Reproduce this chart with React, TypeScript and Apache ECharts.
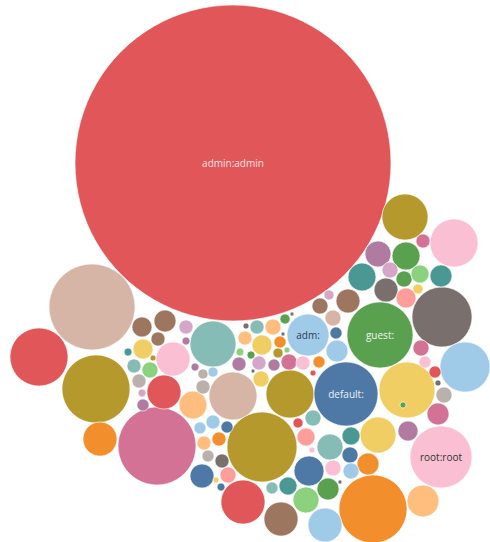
import React, { useEffect, useRef } from "react";
import * as echarts from "echarts";

// Bubble labels (empty = unlabeled)
const labels: string[] = [
  "admin:admin", "", "", "", "", "", "", "", "", "", "", "", "", "default:", "", "guest:", "", "", "", "",
  "root:root", "", "", "", "", "adm:",
];

// Bubble centre positions (layout units) and radii (value)
const xs: number[] = [
  233, 92, 39, 96, 100, 157, 164, 193, 233, 262, 243, 281, 290, 346, 407, 380, 442, 405, 454, 465,
  441, 373, 423, 378, 368, 308, 213, 173, 165, 142, 158, 186, 186, 143, 128, 134, 150, 153, 195, 203,
  213, 139, 203, 142, 143, 325, 306, 328, 288, 309, 330, 351, 350, 351, 333, 306, 313, 298, 408, 438,
  444, 435, 438, 425, 421, 423, 378, 406, 362, 390, 404, 420, 441, 386, 418, 406, 348, 320, 329, 333,
  336, 337, 285, 292, 257, 246, 273, 245, 262, 280, 240, 251, 278, 287, 239, 259, 274, 289, 303, 319,
  313, 261, 200, 213, 227, 204, 219, 208, 222, 202, 228, 216, 221, 272, 403, 312, 340, 283, 253,
];
const ys: number[] = [
  163, 307, 357, 389, 439, 446, 392, 405, 396, 447, 502, 519, 394, 394, 390, 335, 317, 217, 243, 367,
  457, 509, 501, 435, 464, 335, 344, 359, 321, 327, 339, 327, 341, 349, 352, 366, 370, 358, 367, 374,
  372, 381, 387, 393, 405, 525, 500, 489, 486, 471, 447, 436, 455, 471, 468, 437, 418, 423, 431, 414,
  395, 372, 383, 362, 348, 241, 254, 256, 277, 270, 279, 274, 276, 290, 289, 298, 301, 306, 295, 318,
  333, 351, 319, 314, 327, 326, 327, 338, 345, 342, 352, 355, 353, 350, 364, 363, 365, 362, 363, 362,
  373, 379, 428, 422, 427, 443, 439, 456, 461, 476, 475, 480, 487, 488, 405, 450, 482, 334, 371,
];
const radii: number[] = [
  158, 43, 29, 34, 17, 39, 17, 14, 24, 35, 22, 17, 24, 32, 28, 33, 30, 23, 24, 25,
  31, 34, 16, 18, 11, 21, 23, 17, 11, 10, 7, 7, 4, 10, 4, 7, 8, 3, 4, 5,
  5, 7, 7, 4, 6, 17, 13, 11, 9, 15, 13, 9, 8, 8, 8, 9, 8, 5, 10, 11,
  8, 6, 3, 6, 8, 7, 13, 14, 14, 8, 8, 9, 11, 12, 5, 10, 12, 8, 5, 8,
  6, 11, 5, 2, 7, 3, 8, 7, 10, 6, 4, 4, 5, 3, 7, 7, 6, 8, 7, 6,
  3, 8, 6, 7, 6, 7, 7, 6, 7, 12, 8, 3, 4, 6, 3, 3, 2, 2, 2,
];
// Category of each bubble (into palette)
const cats: string[] = [
  "red", "tan", "red", "olive", "orange", "pink", "red", "lorange", "tan", "olive", "red", "brown", "olive", "blue", "yellow", "green", "gbrown", "olive", "lpink", "lblue",
  "lpink", "orange", "lorange", "yellow", "orange", "lblue", "lteal", "lpink", "brown", "brown", "brown", "lpurple", "purple", "yellow", "teal", "lteal", "lgreen", "olive", "purple", "lgrey",
  "lblue", "lgrey", "lgrey", "lpurple", "purple", "lblue", "lgreen", "green", "teal", "blue", "lteal", "teal", "blue", "lblue", "lpink", "salmon", "lteal", "red", "purple", "pink",
  "lgrey", "red", "gbrown", "lpink", "pink", "pink", "purple", "green", "teal", "lpurple", "green", "lgreen", "teal", "gbrown", "yellow", "salmon", "brown", "brown", "lpurple", "tan",
  "blue", "lblue", "green", "gbrown", "lteal", "gbrown", "lorange", "lorange", "yellow", "orange", "lgreen", "green", "olive", "lgreen", "purple", "lpurple", "purple", "pink", "lpink", "orange",
  "red", "yellow", "lblue", "lblue", "blue", "lorange", "orange", "lgrey", "gbrown", "blue", "salmon", "yellow", "blue", "lteal", "green", "lpink", "gbrown", "gbrown", "gbrown",
];

const palette: Record<string, string> = {
  red: "#E15759", tan: "#D7B5A6", olive: "#B6992D", yellow: "#F1CE63", lpink: "#FABFD2",
  pink: "#D37295", orange: "#F28E2B", lorange: "#FFBE7D", green: "#59A14F", lgreen: "#8CD17D",
  teal: "#499894", lteal: "#86BCB6", blue: "#4E79A7", lblue: "#A0CBE8", gbrown: "#79706E",
  lgrey: "#BAB0AC", purple: "#B07AA1", lpurple: "#D4A6C8", brown: "#9D7660", salmon: "#FF9D9A",
};
const labelColors: Record<string, string> = {
  "admin:admin": "#f6e3e3", "adm:": "#2f3b58", "guest:": "#eef6ec", "default:": "#e9eef6", "root:root": "#333333",
};

export default function App() {
  const ref = useRef<HTMLDivElement>(null);
  useEffect(() => {
    if (!ref.current) return;
    const chart = echarts.init(ref.current, undefined, { renderer: "svg" });
    const data = xs.map((x, i) => ({
      value: [x, ys[i], radii[i]],
      name: labels[i] || "",
      itemStyle: { color: palette[cats[i]] },
      label: labels[i]
        ? { show: true, formatter: labels[i], color: labelColors[labels[i]] || "#fff" }
        : { show: false },
    }));
    chart.setOption({
      animation: false,
      grid: { left: 0, right: 0, top: 0, bottom: 0 },
      xAxis: { type: "value", min: 0, max: 490, show: false },
      yAxis: { type: "value", min: 0, max: 542, inverse: true, show: false },
      series: [
        {
          type: "scatter",
          data,
          symbol: "circle",
          symbolSize: (v: number[]) => v[2] * 2,
          itemStyle: { borderColor: "rgba(255,255,255,0.8)", borderWidth: 0.8, opacity: 1 },
          label: {
            position: "inside",
            fontSize: 10,
            fontFamily: "Open Sans, sans-serif",
          },
        },
      ],
    });
    return () => chart.dispose();
  }, []);
  return (
    <div
      ref={ref}
      style={{ position: "fixed", left: 0, top: 0, width: 490, height: 542, background: "#fff" }}
    />
  );
}
